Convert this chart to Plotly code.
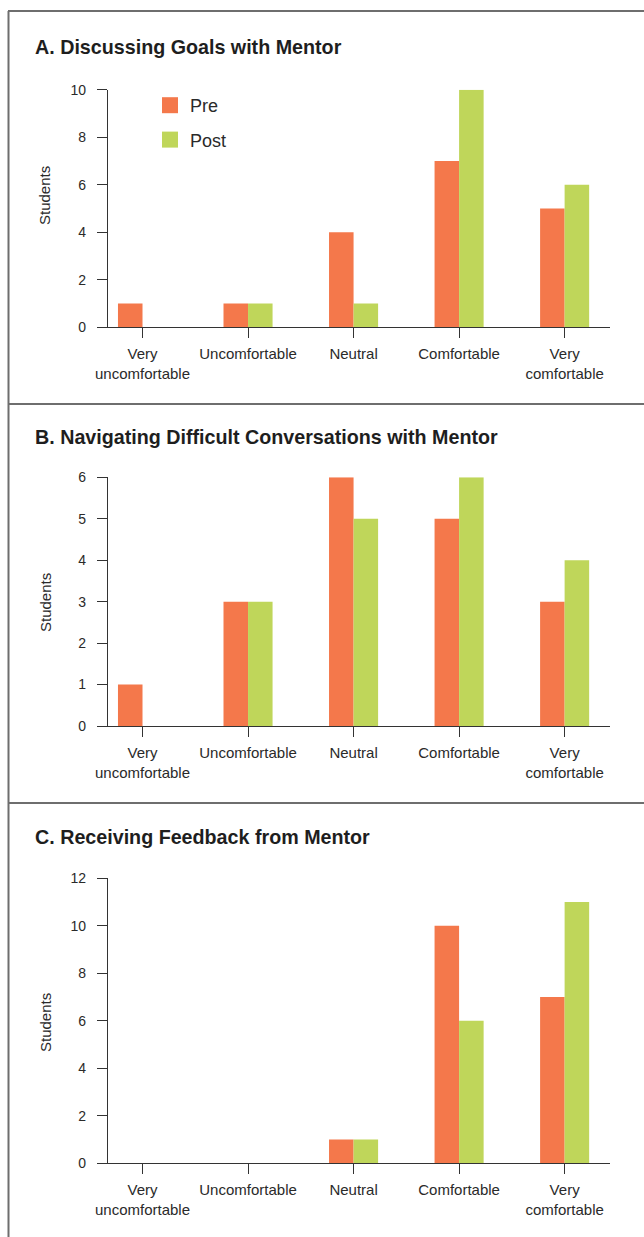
import plotly.graph_objects as go

# ---------------- data ----------------
categories = ["Very<br>uncomfortable", "Uncomfortable", "Neutral", "Comfortable", "Very<br>comfortable"]
series_names = ["Pre", "Post"]

pre_goals = [1, 1, 4, 7, 5]
post_goals = [0, 1, 1, 10, 6]

pre_difficult = [1, 3, 6, 5, 3]
post_difficult = [0, 3, 5, 6, 4]

pre_feedback = [0, 0, 1, 10, 7]
post_feedback = [0, 0, 1, 6, 11]

panel_titles = [
    "A. Discussing Goals with Mentor",
    "B. Navigating Difficult Conversations with Mentor",
    "C. Receiving Feedback from Mentor",
]
y_title = "Students"
y_max = [10, 6, 12]
y_dtick = [2, 1, 2]

# ---------------- style ----------------
W, H = 644, 1237
PRE_COLOR = "#F4784B"
POST_COLOR = "#BFD65A"
AXIS_COLOR = "#333333"
TEXT_COLOR = "#2a2a2a"
FONT = "Liberation Sans, Arial, sans-serif"

def py(px):  # pixel from top -> paper y
    return 1 - px / H

def px_(x):
    return x / W

# plot-area pixel geometry (top, bottom) per panel
panel_px = [(89.7, 327.3), (477.3, 726.0), (878.3, 1163.3)]
x_left_px, x_right_px = 108, 610

fig = go.Figure()

data = [(pre_goals, post_goals), (pre_difficult, post_difficult), (pre_feedback, post_feedback)]
for i, (pre, post) in enumerate(data):
    suffix = "" if i == 0 else str(i + 1)
    fig.add_trace(go.Bar(x=categories, y=pre, name="Pre", marker=dict(color=PRE_COLOR, line=dict(width=0)),
                         xaxis="x" + suffix, yaxis="y" + suffix, showlegend=False, offsetgroup="pre",
                         hoverinfo="skip"))
    fig.add_trace(go.Bar(x=categories, y=post, name="Post", marker=dict(color=POST_COLOR, line=dict(width=0)),
                         xaxis="x" + suffix, yaxis="y" + suffix, showlegend=False, offsetgroup="post",
                         hoverinfo="skip"))

# legend entries (square swatches)
for name, col in zip(series_names, [PRE_COLOR, POST_COLOR]):
    fig.add_trace(go.Scatter(x=[None], y=[None], mode="markers", name=name, legendgroup=name,
                             marker=dict(symbol="square", size=16, color=col), xaxis="x", yaxis="y"))

layout = dict(
    width=W, height=H,
    margin=dict(l=0, r=0, t=0, b=0, autoexpand=False),
    paper_bgcolor="white", plot_bgcolor="white",
    barmode="group", bargap=0.535, bargroupgap=0,
    font=dict(family=FONT, color=TEXT_COLOR, size=14),
    showlegend=True,
    legend=dict(x=px_(150), y=py(87), xanchor="left", yanchor="top",
                font=dict(size=18, family=FONT, color=TEXT_COLOR),
                bgcolor="rgba(0,0,0,0)", tracegroupgap=8, itemsizing="trace"),
)

annotations = []
shapes = []
title_y = [47, 437, 837]
ytitle_y = [195, 602, 1022]
for i in range(3):
    suffix = "" if i == 0 else str(i + 1)
    top, bot = panel_px[i]
    layout["xaxis" + suffix] = dict(
        domain=[px_(x_left_px), px_(x_right_px)], anchor="y" + suffix,
        type="category", range=[-0.327, 4.43], automargin=False,
        showline=True, linecolor=AXIS_COLOR, linewidth=1.3,
        ticks="outside", ticklen=10, tickwidth=1.3, tickcolor=AXIS_COLOR,
        showgrid=False, zeroline=False,
        tickfont=dict(size=15, family=FONT, color=TEXT_COLOR),
        ticklabelstandoff=3,
        fixedrange=True,
    )
    layout["yaxis" + suffix] = dict(
        domain=[py(bot), py(top)], anchor="x" + suffix,
        range=[0, y_max[i]], dtick=y_dtick[i], tick0=0, automargin=False,
        showline=True, linecolor=AXIS_COLOR, linewidth=1.3,
        ticks="outside", ticklen=10, tickwidth=1.3, tickcolor=AXIS_COLOR,
        showgrid=False, zeroline=False,
        tickfont=dict(size=14, family=FONT, color=TEXT_COLOR),
        ticklabelstandoff=8,
        fixedrange=True,
    )
    annotations.append(dict(text="<b>" + panel_titles[i] + "</b>", xref="paper", yref="paper",
                            x=px_(33), y=py(title_y[i]), xanchor="left", yanchor="middle",
                            showarrow=False, font=dict(size=19.7, family=FONT, color="#1e1e1e")))
    annotations.append(dict(text=y_title, xref="paper", yref="paper", textangle=-90,
                            x=px_(45), y=py(ytitle_y[i]), xanchor="center", yanchor="middle",
                            showarrow=False, font=dict(size=15, family=FONT, color=TEXT_COLOR)))

# frame lines
LINE = dict(color="#6e6e6e", width=2)
shapes.append(dict(type="line", xref="paper", yref="paper", x0=px_(8), x1=1, y0=py(11), y1=py(11), line=LINE))
shapes.append(dict(type="line", xref="paper", yref="paper", x0=px_(8.5), x1=px_(8.5), y0=0, y1=py(11), line=LINE))
for sep in [404, 803]:
    shapes.append(dict(type="line", xref="paper", yref="paper", x0=px_(8), x1=1, y0=py(sep), y1=py(sep), line=LINE))

layout["annotations"] = annotations
layout["shapes"] = shapes
fig.update_layout(**layout)

fig.write_html(
    "out.html",
    config={"displayModeBar": False},
    post_script="document.body.style.margin='0';document.body.style.padding='0';"
                "document.documentElement.style.overflow='hidden';",
)
